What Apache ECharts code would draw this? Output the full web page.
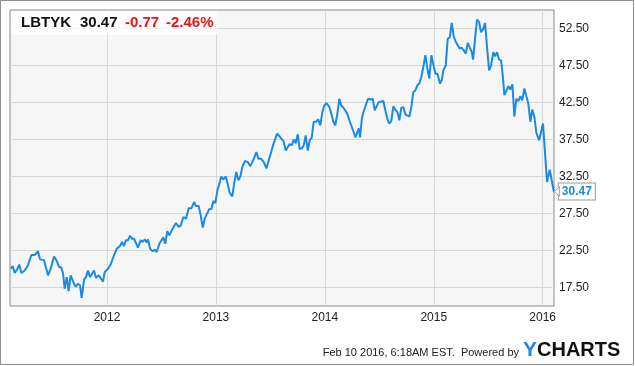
<!DOCTYPE html>
<html>
<head>
<meta charset="utf-8">
<script src="https://cdn.jsdelivr.net/npm/echarts@6/dist/echarts.min.js"></script>
<style>
html,body{margin:0;padding:0;background:#fff;}
#chart{width:635px;height:366px;}
</style>
</head>
<body>
<div id="chart"></div>
<script>
// Decimal-year positions of the readings
const years = [
2011.115,2011.134,2011.152,2011.173,2011.194,2011.213,2011.244,2011.274,2011.290,2011.305,
2011.336,2011.366,2011.385,2011.403,2011.421,2011.437,2011.458,2011.483,2011.513,2011.538,
2011.559,2011.580,2011.596,2011.611,2011.630,2011.648,2011.666,2011.690,2011.712,2011.733,
2011.752,2011.767,2011.789,2011.807,2011.825,2011.844,2011.862,2011.880,2011.899,2011.924,
2011.942,2011.963,2011.979,2012.009,2012.034,2012.052,2012.089,2012.119,2012.138,2012.156,
2012.174,2012.193,2012.211,2012.229,2012.248,2012.266,2012.284,2012.309,2012.328,2012.346,
2012.364,2012.376,2012.395,2012.419,2012.438,2012.456,2012.480,2012.498,2012.517,2012.535,
2012.553,2012.572,2012.594,2012.615,2012.633,2012.658,2012.677,2012.700,2012.725,2012.750,
2012.774,2012.799,2012.817,2012.842,2012.860,2012.879,2012.897,2012.915,2012.939,2012.958,
2012.976,2012.994,2013.013,2013.031,2013.049,2013.068,2013.090,2013.108,2013.126,2013.150,
2013.169,2013.187,2013.205,2013.224,2013.242,2013.267,2013.292,2013.316,2013.334,2013.352,
2013.371,2013.389,2013.414,2013.439,2013.463,2013.481,2013.499,2013.524,2013.561,2013.586,
2013.604,2013.622,2013.641,2013.659,2013.677,2013.696,2013.714,2013.733,2013.751,2013.769,
2013.788,2013.806,2013.824,2013.843,2013.861,2013.879,2013.898,2013.919,2013.940,2013.958,
2013.977,2013.995,2014.014,2014.041,2014.059,2014.078,2014.096,2014.115,2014.133,2014.151,
2014.170,2014.188,2014.206,2014.225,2014.243,2014.261,2014.280,2014.293,2014.311,2014.323,
2014.341,2014.360,2014.378,2014.396,2014.421,2014.440,2014.458,2014.476,2014.495,2014.513,
2014.537,2014.555,2014.574,2014.592,2014.610,2014.629,2014.647,2014.666,2014.684,2014.702,
2014.721,2014.739,2014.757,2014.776,2014.794,2014.812,2014.831,2014.849,2014.868,2014.886,
2014.904,2014.923,2014.941,2014.959,2014.978,2014.996,2015.014,2015.033,2015.058,2015.073,
2015.088,2015.110,2015.128,2015.147,2015.165,2015.183,2015.202,2015.220,2015.238,2015.257,
2015.275,2015.294,2015.312,2015.330,2015.349,2015.361,2015.379,2015.397,2015.416,2015.434,
2015.452,2015.471,2015.489,2015.508,2015.526,2015.547,2015.563,2015.581,2015.599,2015.618,
2015.636,2015.648,2015.666,2015.685,2015.703,2015.722,2015.740,2015.758,2015.777,2015.795,
2015.813,2015.832,2015.850,2015.868,2015.887,2015.905,2015.924,2015.942,2015.967,2015.985,
2016.003,2016.022,2016.040,2016.065,2016.083,2016.102
];
// LBTYK closing prices
const prices = [
20.05,20.4,19.46,19.9,20.6,19.46,19.8,20.5,20.7,21.9,
21.9,22.4,21.3,21.1,21.2,20.3,19.15,20.05,21.7,21.1,
20.3,20.2,19.4,17.35,18.9,17.0,19.15,18.25,17.6,18.0,
17.8,16.1,18.6,18.9,19.8,18.9,19.0,19.8,18.8,19.15,
19.0,18.3,19.6,20.05,20.6,21.4,22.75,23.1,23.65,23.1,
23.9,23.9,24.5,24.1,24.1,23.5,22.9,23.9,23.65,24.0,
23.6,24.0,22.75,22.4,22.6,22.3,23.4,23.3,24.3,23.4,
25.1,24.55,25.2,25.8,26.2,25.7,25.9,27.0,26.8,28.2,
28.2,29.05,28.5,28.5,27.25,25.6,26.8,26.6,28.1,28.1,
29.2,28.9,30.6,31.5,32.5,32.1,32.5,31.5,30.3,29.8,
31.75,33.1,32.0,32.5,33.8,34.6,34.45,33.9,34.0,35.05,
35.8,34.9,34.9,34.45,33.6,33.4,35.4,36.7,38.3,37.9,
37.9,37.2,36.0,35.95,36.9,36.7,37.5,37.0,38.2,36.2,
36.3,36.7,38.05,36.0,37.4,37.75,39.9,39.9,40.2,39.4,
41.2,42.1,42.4,41.9,41.0,39.9,39.4,41.0,43.0,42.1,
41.8,41.8,41.0,40.1,40.3,38.65,37.8,37.75,39.0,37.8,
40.5,41.45,41.7,43.0,42.9,43.0,41.45,41.2,42.55,42.35,
42.7,41.45,40.3,39.65,40.0,42.0,41.55,41.2,40.1,41.8,
41.85,40.9,40.95,40.6,41.9,43.9,44.15,44.8,45.1,45.95,
47.3,48.9,47.1,45.75,48.9,48.65,46.4,46.4,45.05,45.5,
46.85,47.5,51.1,51.3,53.25,51.45,50.7,50.6,49.8,49.9,
49.55,49.1,50.55,50.5,49.3,48.3,51.1,53.7,53.4,52.0,
52.35,53.25,50.0,46.85,47.5,49.3,48.75,49.3,48.3,48.2,
45.75,43.5,43.35,44.7,44.25,44.95,40.6,43.0,42.7,43.35,
42.8,44.4,44.15,42.35,39.9,41.55,40.55,38.4,37.4,38.5,
39.65,35.6,31.75,33.4,33.4,30.47
];
const yTicks = [17.5, 22.5, 27.5, 32.5, 37.5, 42.5, 47.5, 52.5];
const xTicks = [2012, 2013, 2014, 2015, 2016];
const ticker = 'LBTYK';
const lastPrice = '30.47';
const change = '-0.77';
const changePct = '-2.46%';
const footerText = 'Feb 10 2016, 6:18AM EST.  Powered by';

const FONT = "'Liberation Sans', Arial, sans-serif";
const BLUE = '#1a8ae6';

const chart = echarts.init(document.getElementById('chart'), null, {renderer: 'canvas'});
const seriesData = years.map((y, i) => [y, prices[i]]);

chart.setOption({
  animation: false,
  backgroundColor: '#fff',
  grid: {left: 10, right: 81, top: 10, bottom: 60, show: true,
         backgroundColor: '#f6f6f6', borderColor: '#8a8a8a', borderWidth: 1},
  xAxis: {
    type: 'value', min: 2011.109, max: 2016.104,
    axisLine: {show: false},
    axisTick: {show: false, customValues: xTicks},
    axisLabel: {customValues: xTicks, formatter: v => String(Math.round(v)),
                color: '#222', fontSize: 12, fontFamily: FONT, margin: 6},
    splitLine: {show: true, lineStyle: {color: '#d8d8d8', width: 1}}
  },
  yAxis: {
    type: 'value', position: 'right', min: 15, max: 55,
    axisLine: {show: false},
    axisTick: {show: false, customValues: yTicks},
    axisLabel: {customValues: yTicks, formatter: v => Number(v).toFixed(2),
                color: '#222', fontSize: 12, fontFamily: FONT, margin: 5},
    splitLine: {show: true, lineStyle: {color: '#d8d8d8', width: 1}}
  },
  series: [{
    type: 'line', data: seriesData, showSymbol: false,
    lineStyle: {color: BLUE, width: 2}, z: 3,
    endLabel: {show: true, formatter: () => lastPrice, color: BLUE, fontWeight: 'bold',
               fontSize: 12, fontFamily: FONT, backgroundColor: '#fff',
               borderColor: '#999', borderWidth: 1, padding: [2, 3, 2, 3], distance: 5}
  }],
  graphic: {elements: [
    {type: 'rect', shape: {x: 0.5, y: 0.5, width: 633, height: 364},
     style: {fill: 'none', stroke: '#8f8f8f', lineWidth: 1}, z: 100, silent: true},
    {type: 'rect', shape: {x: 11, y: 11, width: 207, height: 24},
     style: {fill: 'rgba(255,255,255,0.75)'}, z: 50, silent: true},
    {type: 'text', x: 21, y: 23, z: 60, style: {text: ticker, fill: '#111', font: 'bold 15px ' + FONT, verticalAlign: 'middle'}},
    {type: 'text', x: 80, y: 23, z: 60, style: {text: lastPrice, fill: '#111', font: 'bold 15px ' + FONT, verticalAlign: 'middle'}},
    {type: 'text', x: 125, y: 23, z: 60, style: {text: change, fill: '#ee1111', font: 'bold 15px ' + FONT, verticalAlign: 'middle'}},
    {type: 'text', x: 166, y: 23, z: 60, style: {text: changePct, fill: '#ee1111', font: 'bold 15px ' + FONT, verticalAlign: 'middle'}},
    {type: 'text', x: 519, y: 353, z: 60, style: {text: footerText, fill: '#222', font: '11px ' + FONT, align: 'right', verticalAlign: 'middle'}},
    {type: 'text', x: 523, y: 350, z: 60, style: {text: 'Y', fill: BLUE, font: 'bold 21px ' + FONT, verticalAlign: 'middle'}},
    {type: 'text', x: 537, y: 350, z: 60, style: {text: 'CHARTS', fill: '#111', font: 'bold 20px ' + FONT, verticalAlign: 'middle'}}
  ]}
});

// pointer of the last-value label, placed from the last data point
const endPt = chart.convertToPixel({gridIndex: 0}, seriesData[seriesData.length - 1]);
chart.setOption({
  graphic: {elements: [
    {id: 'arrow', type: 'polygon', z: 70, silent: true,
     shape: {points: [[endPt[0] + 5.5, endPt[1] - 5], [endPt[0] + 1, endPt[1]], [endPt[0] + 5.5, endPt[1] + 5]]},
     style: {fill: '#fff', stroke: '#999', lineWidth: 1}}
  ]}
});
</script>
</body>
</html>
